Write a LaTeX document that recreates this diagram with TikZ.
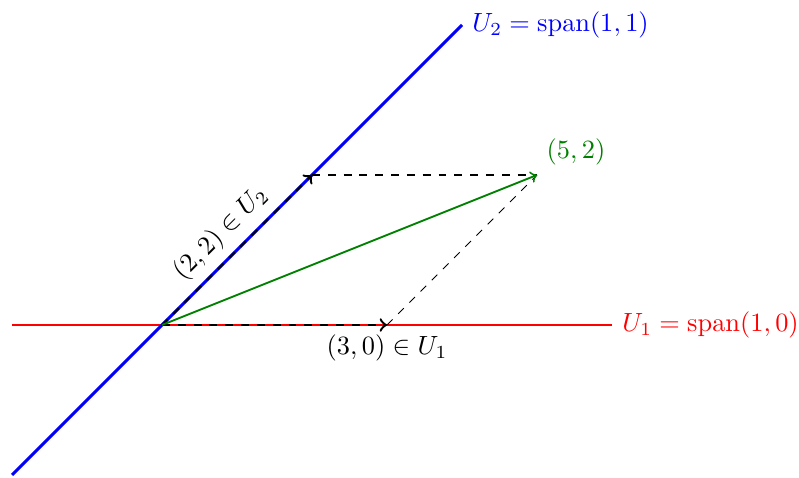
\documentclass[tikz,border=0pt]{standalone}
\usetikzlibrary{arrows}
\begin{document}
\begin{tikzpicture}[x=1cm,y=1cm,
  subline/.style={line width=1.1pt},
  comp/.style={line width=0.9pt,dashed,-to},
  helper/.style={dashed,line width=0.4pt},
  vec/.style={line width=0.7pt,-to,green!50!black}]
\useasboundingbox (-2.16,-2.027) rectangle (8.493,4.333);
\coordinate (O) at (0,0);
\coordinate (A) at (2,2);
\coordinate (B) at (3,0);
\coordinate (P) at (5,2);
\coordinate (R1) at (-2,0);
\coordinate (R2) at (6,0);
\coordinate (L1) at (-2,-2);
\coordinate (L2) at (4,4);
\draw[subline,red] (R1) -- (R2) node[right] (u1) {$U_1=\mathrm{span}(1,0)$};
\draw[subline,blue] (L1) -- (L2) node[right] (u2) {$U_2=\mathrm{span}(1,1)$};
\draw[helper] (A) -- (P);
\draw[helper] (B) -- (P);
\draw[comp] (O) -- node[midway,above,sloped] (la) {$(2,2)\in U_2$} (A);
\draw[comp] (O) -- (B) node[below] (lb) {$(3,0)\in U_1$};
\draw[vec] (O) -- (P) node[above right,green!50!black] (lp) {$(5,2)$};
\end{tikzpicture}
\end{document}
